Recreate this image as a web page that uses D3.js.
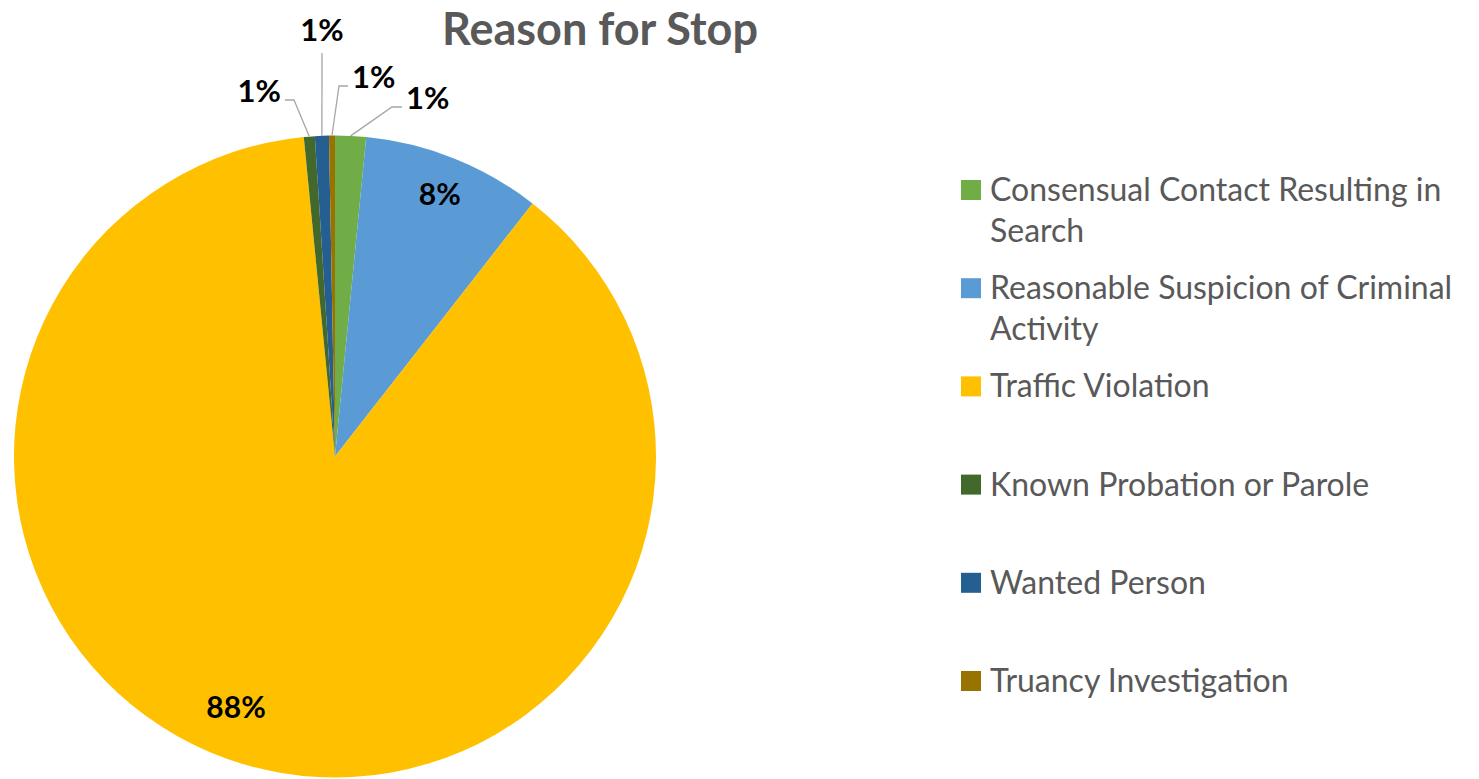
<!DOCTYPE html>
<html>
<head>
<meta charset="utf-8">
<script src="https://cdn.jsdelivr.net/npm/d3@7"></script>
<style>
  body { margin: 0; background: #fff; }
  svg text { font-family: Lato, "Open Sans", sans-serif; }
</style>
</head>
<body>
<svg id="chart" width="1479" height="779"></svg>
<script>
// data (share of stops, percent)
const categories = ["Consensual Contact Resulting in Search", "Reasonable Suspicion of Criminal Activity",
  "Traffic Violation", "Known Probation or Parole", "Wanted Person", "Truancy Investigation"];
const values = [1.55, 9.0, 87.9, 0.55, 0.7, 0.3];
const pctLabels = ["1%", "8%", "88%", "1%", "1%", "1%"];
const legendLines = [["Consensual Contact Resulting in", "Search"], ["Reasonable Suspicion of Criminal", "Activity"],
  ["Traffic Violation"], ["Known Probation or Parole"], ["Wanted Person"], ["Truancy Investigation"]];
const colors = ["#70AD47", "#5B9BD5", "#FFC000", "#43682B", "#255E91", "#997300"];

const cx = 335, cy = 456.5, radius = 321;

var svg = d3.select("#chart");

svg.append("text")
  .attr("x", 600)
  .attr("y", 45)
  .attr("text-anchor", "middle")
  .attr("font-size", 45)
  .attr("font-weight", "bold")
  .attr("fill", "#595959")
  .text("Reason for Stop");

var pie = d3.pie().sort(null).value(d => d);
var arcs = pie(values);
var arc = d3.arc().innerRadius(0).outerRadius(radius);

var g = svg.append("g").attr("transform", `translate(${cx},${cy})`);

g.selectAll("path")
  .data(arcs)
  .enter()
  .append("path")
  .attr("d", arc)
  .attr("fill", (d, i) => colors[i]);

// labels inside the two big slices
var inner = { 1: 0.88, 2: 0.84 };
var innerShift = { 1: 0, 2: 0.093 }; // angle tweak (radians), excel nudges the big label
Object.keys(inner).forEach(k => {
  var d = arcs[k];
  var a = (d.startAngle + d.endAngle) / 2 + innerShift[k];
  g.append("text")
    .attr("x", Math.sin(a) * radius * inner[k])
    .attr("y", -Math.cos(a) * radius * inner[k])
    .attr("dy", "0.36em")
    .attr("text-anchor", "middle")
    .attr("font-size", 30)
    .attr("font-weight", "bold")
    .attr("fill", "#000")
    .text(pctLabels[k]);
});

// outside labels with leader lines for the thin slices
// elbow = where the leader line bends, relative to pie centre
var outside = [
  { i: 0, elbow: [57, -349.5], end: [67, -349.5], anchor: "start" },
  { i: 3, elbow: [-41, -356.5], end: [-50, -356.5], anchor: "end" },
  { i: 4, elbow: [-13, -403.5], end: [-13, -403.5], anchor: "middle" },
  { i: 5, elbow: [4, -370.5], end: [13, -370.5], anchor: "start" }
];

outside.forEach(o => {
  var d = arcs[o.i];
  var a = (d.startAngle + d.endAngle) / 2;
  var sx = Math.sin(a) * radius, sy = -Math.cos(a) * radius;
  g.append("polyline")
    .attr("points", [[sx, sy], o.elbow, o.end].map(p => p.join(",")).join(" "))
    .attr("fill", "none")
    .attr("stroke", "#A6A6A6")
    .attr("stroke-width", 1.3);
  var tx = o.end[0] + (o.anchor === "start" ? 4 : o.anchor === "end" ? -4 : 0);
  var ty = o.anchor === "middle" ? o.end[1] - 23 : o.end[1] - 9;
  g.append("text")
    .attr("x", tx)
    .attr("y", ty)
    .attr("dy", "0.36em")
    .attr("text-anchor", o.anchor)
    .attr("font-size", 31)
    .attr("font-weight", "bold")
    .attr("fill", "#000")
    .text(pctLabels[o.i]);
});

// legend
var ly = d3.scalePoint().domain(categories).range([190, 681]);

var legend = svg.append("g");
var items = legend.selectAll("g")
  .data(categories)
  .enter()
  .append("g")
  .attr("transform", d => `translate(961,${ly(d)})`);

items.append("rect")
  .attr("x", 0)
  .attr("y", -10)
  .attr("width", 20)
  .attr("height", 20)
  .attr("fill", (d, i) => colors[i]);

items.append("text")
  .attr("x", 29)
  .attr("y", 11)
  .attr("font-size", 32)
  .attr("fill", "#595959")
  .selectAll("tspan")
  .data((d, i) => legendLines[i])
  .enter()
  .append("tspan")
  .attr("x", 29)
  .attr("dy", (d, j) => j === 0 ? 0 : 41)
  .text(d => d);
</script>
</body>
</html>
